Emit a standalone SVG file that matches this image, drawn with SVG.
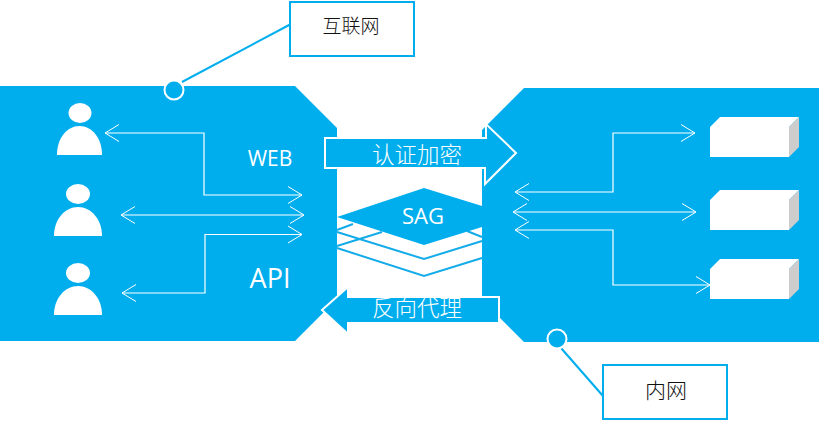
<svg xmlns="http://www.w3.org/2000/svg" width="822" height="421" viewBox="0 0 822 421">
<defs>
<marker id="open" viewBox="-16 -10 18 20" refX="0" refY="0" markerWidth="18" markerHeight="20" markerUnits="userSpaceOnUse" orient="auto-start-reverse"><path d="M-14 -8.500L0 0L-14 8.500" fill="none" stroke="#fff" stroke-width="1"/></marker>
</defs>
<style>
.panel{fill:#00aeee}
.wire{fill:none;stroke:#fff;stroke-width:1.200;marker-start:url(#open);marker-end:url(#open)}
.user{fill:#fff}
.chev{fill:none;stroke:#14ace8;stroke-width:2}
.big{fill:#00aeee;stroke:#fff;stroke-width:2}
.box{fill:#fff}
.side{fill:#cdcdcd}
.call{fill:#fff;stroke:#00aeee;stroke-width:2}
.lead{fill:none;stroke:#00aeee;stroke-width:2}
.dot{fill:#00aeee;stroke:#fff;stroke-width:2}
text{font-family:"Open Sans","Noto Sans","Noto Sans CJK SC",sans-serif;fill:#fff;text-anchor:middle}
.cjk{font-family:"Noto Sans CJK SC",sans-serif;font-weight:300}
.dark{font-family:"Noto Sans CJK SC",sans-serif;font-weight:300;fill:#111}
</style>
<g id="internet-zone"><path class="panel" d="M0 86H295L337 128V299L295 341H0Z"/></g>
<g id="intranet-zone"><path class="panel" d="M524 88H819V342H524L482 300V130Z"/></g>
<g id="stack">
<path class="chev" d="M337 232L424 259L482 241M337 248L424 276L482 258M337 230L353 224M337 246L382 232M467 231L482 237"/>
</g>
<g id="sag"><path class="panel" d="M337 217L424 188L482 206V227L424 245Z"/><text x="423" y="224" font-size="22">SAG</text></g>
<g id="connectors">
<path class="wire" d="M105 133H204V195H302"/>
<path class="wire" d="M121 215H304"/>
<path class="wire" d="M122 293H205V234.500H302"/>
<path class="wire" d="M515 192H613V133H695"/>
<path class="wire" d="M513 212H696"/>
<path class="wire" d="M515 230H613V285H710"/>
<path class="lead" d="M182 82L291 24"/>
<path class="lead" d="M561 348L603 396"/>
</g>
<g id="user-1"><ellipse class="user" cx="80" cy="113" rx="11.500" ry="10"/><path class="user" d="M57 155C57 138 67 126 79.500 126S102 138 102 155Z"/></g>
<g id="user-2"><ellipse class="user" cx="78" cy="194" rx="12" ry="10"/><path class="user" d="M54 236C54 219 65 207 78 207S102 219 102 236Z"/></g>
<g id="user-3"><ellipse class="user" cx="78" cy="273" rx="12" ry="10"/><path class="user" d="M54 315C54 298 65 286 78 286S102 298 102 315Z"/></g>
<g id="web-label"><text x="270" y="166" font-size="21">WEB</text></g>
<g id="api-label"><text x="270" y="288" font-size="27">API</text></g>
<g id="server-1"><path class="box" d="M710 127L720 117H799L789 127V157H710Z"/><path class="side" d="M789 127L799 117V147L789 157Z"/></g>
<g id="server-2"><path class="box" d="M710 200L720 190H799L789 200V230H710Z"/><path class="side" d="M789 200L799 190V220L789 230Z"/></g>
<g id="server-3"><path class="box" d="M710 269L720 259H799L789 269V299H710Z"/><path class="side" d="M789 269L799 259V289L789 299Z"/></g>
<g id="auth-arrow"><path class="big" d="M325 138H486V124L516 153L485 184V168H325Z"/><text class="cjk" x="417" y="163" font-size="22.500">认证加密</text></g>
<g id="proxy-arrow"><path class="big" d="M322 310L348 287V297H499V323H348V334Z"/><text class="cjk" x="417" y="316" font-size="22.500">反向代理</text></g>
<g id="callout-internet"><circle class="dot" cx="174" cy="90" r="9.500"/><rect class="call" x="290" y="2" width="124" height="54"/><text class="dark" x="351" y="33" font-size="19">互联网</text></g>
<g id="callout-intranet"><circle class="dot" cx="557" cy="339" r="9.500"/><rect class="call" x="603" y="365" width="124" height="54"/><text class="dark" x="666" y="398" font-size="21">内网</text></g>
</svg>
